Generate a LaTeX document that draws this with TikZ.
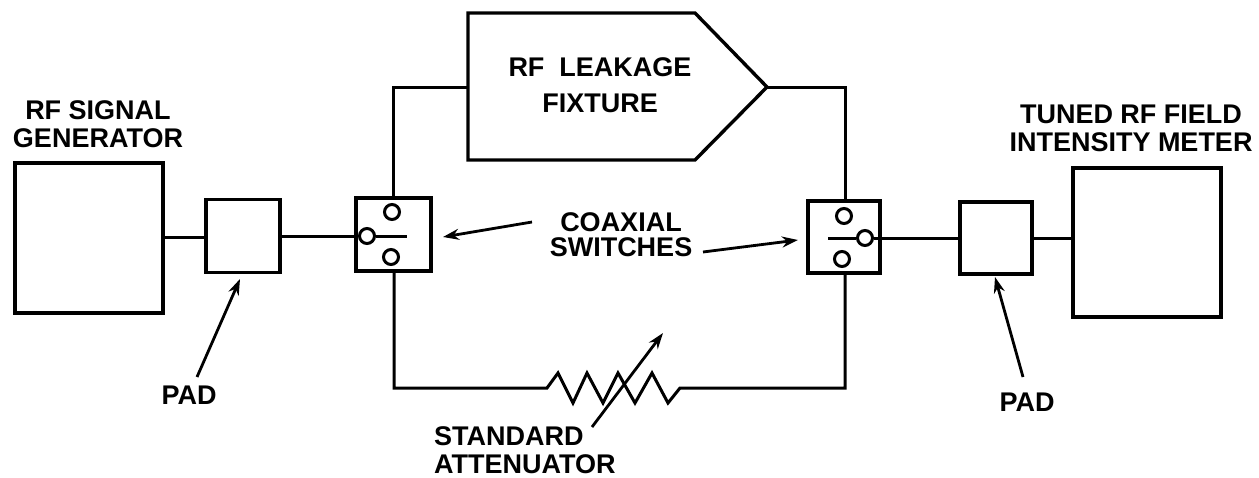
\documentclass[tikz,border=0pt]{standalone}
\usepackage{fontspec}
\setmainfont{Liberation Sans}
\usetikzlibrary{arrows.meta}
\begin{document}
\begin{tikzpicture}[x=1pt,y=-1pt,
  box/.style={draw,line width=3.4pt,inner sep=0pt},
  wire/.style={line width=3pt},
  contact/.style={draw,circle,line width=3pt,minimum size=15pt,inner sep=0pt},
  lbl/.style={font=\bfseries\fontsize{27}{28}\selectfont,align=center,inner sep=0pt},
  pointer/.style={line width=2.8pt,-{Stealth[length=16pt,width=11pt]}}]
\useasboundingbox (0,0) rectangle (1259,477);
% boxes
\node[box,minimum width=148pt,minimum height=150pt] (gen) at (89,238) {};
\node[box,minimum width=74pt,minimum height=73pt] (padL) at (243,236) {};
\node[box,minimum width=75pt,minimum height=73pt] (swL) at (393.5,234.5) {};
\node[box,minimum width=72pt,minimum height=72pt] (swR) at (844,237) {};
\node[box,minimum width=72pt,minimum height=72pt] (padR) at (996,238) {};
\node[box,minimum width=148pt,minimum height=149pt] (meter) at (1147,242.5) {};
% switch contacts
\node[contact] (cLt) at (392,212) {};
\node[contact] (cLc) at (367,236) {};
\node[contact] (cLb) at (391,257) {};
\coordinate (bLend) at (407,236);
\draw[wire] (cLc.east) -- (bLend);
\node[contact] (cRt) at (844,216) {};
\node[contact] (cRc) at (865,238) {};
\node[contact] (cRb) at (842,259) {};
\coordinate (bRend) at (828,238);
\draw[wire] (cRc.west) -- (bRend);
% fixture
\draw[box,line join=miter] (468,13) -- (695,13) -- (767,87) -- (695,160) -- (468,160) -- cycle;
\coordinate (fixL) at (468,87);
\coordinate (fixR) at (767,87);
\node[lbl,font=\bfseries\fontsize{27}{36}\selectfont] (fixtext) at (600,85) {RF\ \ LEAKAGE\\FIXTURE};
% horizontal wires
\draw[wire] (gen.east |- 0,237) -- (padL.west |- 0,237);
\draw[wire] (padL.east |- 0,236) -- (cLc.west);
\draw[wire] (cRc.east) -- (padR.west |- 0,238);
\draw[wire] (padR.east |- 0,238) -- (meter.west |- 0,238);
% top loop
\coordinate (tl) at (393,87);
\coordinate (tr) at (845,87);
\draw[wire] (swL.north -| tl) -- (tl) -- (fixL);
\draw[wire] (fixR) -- (tr) -- (swR.north -| tr);
% bottom loop with attenuator
\coordinate (bl) at (394,388);
\coordinate (br) at (845,388);
\coordinate (rs) at (547,388);
\coordinate (re) at (680,388);
\draw[wire,line join=miter] (swL.south -| bl) -- (bl) -- (rs)
  -- (558,373) -- (573,403) -- (587,373) -- (603,403) -- (618,373)
  -- (635,403) -- (652,373) -- (668,403) -- (re) -- (br) -- (swR.south -| br);
\coordinate (attA) at (592,427);
\coordinate (attB) at (663,333);
\draw[pointer] (attA) -- (attB);
% labels
\node[lbl] (genlbl) at (98,124) {RF\ SIGNAL\\GENERATOR};
\node[lbl] (meterlbl) at (1131,128) {TUNED RF FIELD\\INTENSITY METER};
\node[lbl,font=\bfseries\fontsize{27}{25}\selectfont] (coax) at (621,235) {COAXIAL\\SWITCHES};
\node[lbl,align=left,anchor=west] (att) at (434,450) {STANDARD\\ATTENUATOR};
\node[lbl] (padLlbl) at (189,395) {PAD};
\node[lbl] (padRlbl) at (1027,402) {PAD};
% pointers
\coordinate (cxa) at (532,222);
\coordinate (cxb) at (703,252);
\draw[pointer] (cxa) -- (443,237);
\draw[pointer] (cxb) -- (798,240);
\coordinate (pLa) at (197,377);
\coordinate (pRa) at (1023,377);
\draw[pointer] (pLa) -- (240,279);
\draw[pointer] (pRa) -- (995,277);
\end{tikzpicture}
\end{document}
